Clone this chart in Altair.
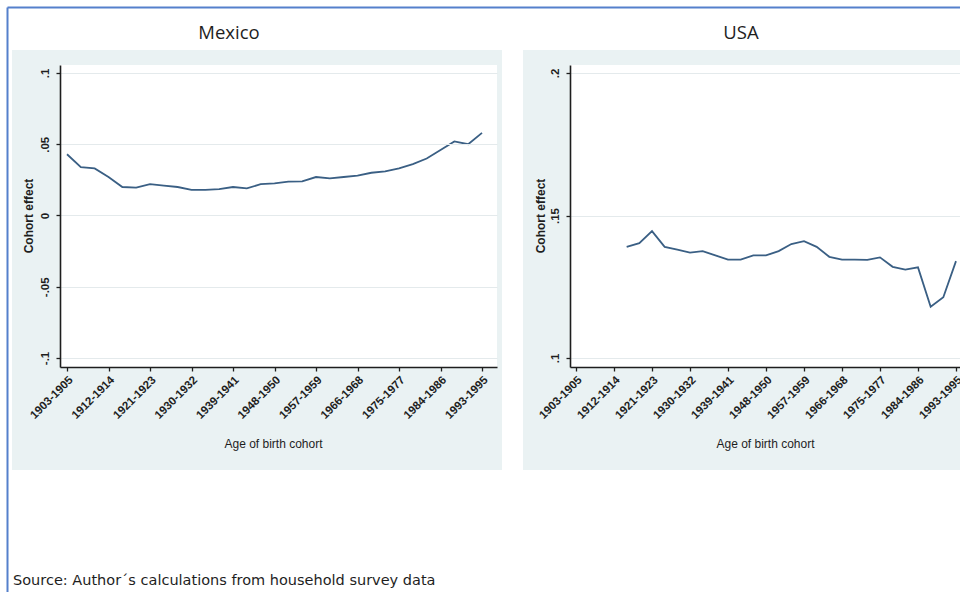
import altair as alt
import pandas as pd

# Three-year birth cohorts, identified by their first year
cohort_start = [1903, 1906, 1909, 1912, 1915, 1918, 1921, 1924, 1927, 1930, 1933,
                1936, 1939, 1942, 1945, 1948, 1951, 1954, 1957, 1960, 1963, 1966,
                1969, 1972, 1975, 1978, 1981, 1984, 1987, 1990, 1993]

# Estimated cohort effects
mexico_effect = [0.043, 0.034, 0.033, 0.027, 0.020, 0.0195, 0.022, 0.021, 0.020, 0.018, 0.018,
                 0.0185, 0.020, 0.019, 0.022, 0.0225, 0.0237, 0.024, 0.027, 0.026, 0.027, 0.028,
                 0.030, 0.031, 0.033, 0.036, 0.040, 0.046, 0.052, 0.050, 0.058]

usa_cohort_start = [1915, 1918, 1921, 1924, 1927, 1930, 1933, 1936, 1939, 1942, 1945,
                    1948, 1951, 1954, 1957, 1960, 1963, 1966, 1969, 1972, 1975, 1978,
                    1981, 1984, 1987, 1990, 1993]
usa_effect = [0.139, 0.1403, 0.1445, 0.139, 0.138, 0.137, 0.1375, 0.136, 0.1345, 0.1345, 0.136,
              0.136, 0.1375, 0.140, 0.141, 0.139, 0.1355, 0.1345, 0.1345, 0.1344, 0.1353, 0.132,
              0.131, 0.1318, 0.118, 0.1213, 0.134]

# Labelled cohorts on the x axis and y-axis ticks
tick_years = [1903, 1912, 1921, 1930, 1939, 1948, 1957, 1966, 1975, 1984, 1993]
mexico_y_ticks = [-0.1, -0.05, 0, 0.05, 0.1]
usa_y_ticks = [0.1, 0.15, 0.2]

panel_titles = ["Mexico", "USA"]
x_title = "Age of birth cohort"
y_title = "Cohort effect"
source_note = "Source: Author\u00b4s calculations from household survey data"

mexico_df = pd.DataFrame({"cohort": cohort_start, "effect": mexico_effect})
usa_df = pd.DataFrame({"cohort": usa_cohort_start, "effect": usa_effect})

W, H = 960, 592
AXIS_FONT = "Liberation Sans"
INK = "#1e1e1e"
PANEL_BG = "#eaf2f3"
GRID = "#e4eaec"
LINE = "#3a5f84"

cohort_label = "datum.value + '-' + (datum.value + 2)"
stata_number = ("datum.value == 0 ? '0' : (datum.value < 0 ? '-' : '') + "
                "replace(format(abs(datum.value), '.2~f'), '0.', '.')")


def x_axis(title_x):
    return alt.Axis(
        orient="bottom", offset=367 - H, values=tick_years, labelExpr=cohort_label,
        labelAngle=315, labelAlign="right", labelBaseline="middle",
        labelOffset=4, labelPadding=7, labelFont=AXIS_FONT, labelFontSize=11.5,
        labelFontWeight="bold", labelColor=INK, labelOverlap=False, labelFlush=False,
        tickSize=4, tickWidth=1.3, tickColor=INK, domainColor=INK, domainWidth=1.6,
        grid=False, title=x_title, titleX=title_x, titleY=76, titleAlign="center",
        titleBaseline="middle", titleFont=AXIS_FONT, titleFontSize=12,
        titleFontWeight="normal", titleColor=INK, zindex=1,
    )


def y_axis(left, values, title_x):
    return alt.Axis(
        orient="left", offset=-left, values=values, labelExpr=stata_number,
        labelAngle=270, labelAlign="center", labelBaseline="bottom",
        labelPadding=6, labelFont=AXIS_FONT, labelFontSize=11.5, labelFontWeight="bold",
        labelColor=INK, labelOverlap=False, labelFlush=False,
        tickSize=4, tickWidth=1.3, tickColor=INK, domainColor=INK, domainWidth=1.6,
        grid=True, gridColor=GRID, gridWidth=1.2,
        title=y_title, titleX=title_x, titleY=215.5, titleAngle=270, titleAlign="center",
        titleBaseline="middle", titleFont=AXIS_FONT, titleFontSize=12,
        titleFontWeight="bold", titleColor=INK, zindex=1,
    )


one = alt.Data(values=[{}])


def box(x0, x1, y0, y1, fill):
    return alt.Chart(one).mark_rect(fill=fill).encode(
        x=alt.value(x0), x2=alt.value(x1), y=alt.value(y0), y2=alt.value(y1))


def label(text, x, y, size, font, weight="normal", align="center"):
    return alt.Chart(one).mark_text(
        text=text, font=font, fontSize=size, fontWeight=weight, color=INK,
        align=align, baseline="middle").encode(x=alt.value(x), y=alt.value(y))


# Graph regions and white plot regions of the two panels
backgrounds = [
    box(12, 502, 50, 470, PANEL_BG),
    box(523, 960, 50, 470, PANEL_BG),
    box(60, 497, 65, 367, "white"),
    box(570, 960, 65, 367, "white"),
]

# Document frame
frame = [
    alt.Chart(one).mark_rule(color="#5580cc", strokeWidth=2).encode(
        x=alt.value(7.5), y=alt.value(7.5), y2=alt.value(H)),
    alt.Chart(one).mark_rule(color="#5580cc", strokeWidth=2).encode(
        x=alt.value(7.5), x2=alt.value(W), y=alt.value(7.5)),
]

mexico_line = alt.Chart(mexico_df).mark_line(color=LINE, strokeWidth=1.8).encode(
    x=alt.X("cohort:Q", axis=x_axis(273),
            scale=alt.Scale(domain=[1901.48, 1996.25], range=[60, 497], nice=False, zero=False)),
    y=alt.Y("effect:Q", axis=y_axis(60, mexico_y_ticks, -32),
            scale=alt.Scale(domain=[-0.10632, 0.10561], range=[367, 65], nice=False, zero=False)),
)

usa_line = alt.Chart(usa_df).mark_line(color=LINE, strokeWidth=1.8).encode(
    x=alt.X("cohort:Q", axis=x_axis(765),
            scale=alt.Scale(domain=[1901.58, 1993.95], range=[570, 960], nice=False, zero=False)),
    y=alt.Y("effect:Q", axis=y_axis(570, usa_y_ticks, -30),
            scale=alt.Scale(domain=[0.09684, 0.20281], range=[367, 65], nice=False, zero=False)),
)

texts = [
    label(panel_titles[0], 229, 33, 18.5, "Open Sans"),
    label(panel_titles[1], 741, 33, 18.5, "Open Sans"),
    label(source_note, 13, 581, 14.5, "DejaVu Sans", align="left"),
]

chart = alt.layer(*backgrounds, *frame, mexico_line, usa_line, *texts).resolve_scale(
    x="independent", y="independent"
).properties(
    width=W, height=H, padding=0, background="white",
    autosize=alt.AutoSizeParams(type="none"),
).configure_view(stroke=None)

chart.save("out.html", embed_options={"renderer": "svg", "actions": False})
